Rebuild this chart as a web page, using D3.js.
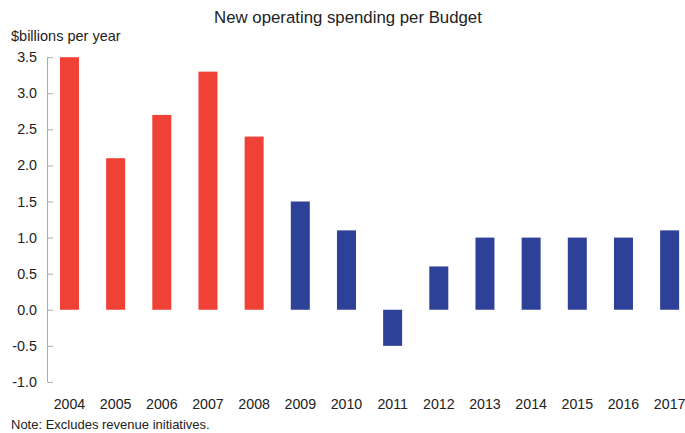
<!DOCTYPE html>
<html>
<head>
<meta charset="utf-8">
<script src="https://cdn.jsdelivr.net/npm/d3@7"></script>
<style>
  html, body { margin: 0; padding: 0; background: #fff; }
  svg { display: block; font-family: "Liberation Sans", Arial, sans-serif; }
</style>
</head>
<body>
<svg id="chart" width="685" height="433"></svg>
<script>
// Budget years and new operating spending ($ billions per year)
const years = ["2004","2005","2006","2007","2008","2009","2010","2011","2012","2013","2014","2015","2016","2017"];
const spending = [3.5, 2.1, 2.7, 3.3, 2.4, 1.5, 1.1, -0.5, 0.6, 1.0, 1.0, 1.0, 1.0, 1.1];
// Which government's budget each year belongs to (colour group)
const groups = ["a","a","a","a","a","b","b","b","b","b","b","b","b","b"];
const yTicks = [-1.0, -0.5, 0.0, 0.5, 1.0, 1.5, 2.0, 2.5, 3.0, 3.5];

const colors = { a: "#ef4136", b: "#2e4198" };

const svg = d3.select("#chart");
const axisX = 47;

const x = d3.scaleBand().domain(years).range([46.5, 692.6]).paddingInner(0.585).paddingOuter(0.29);
const y = d3.scaleLinear().domain([-1.0, 3.5]).range([381.9, 57.2]);

// Title
svg.append("text")
  .attr("x", 348).attr("y", 23)
  .attr("text-anchor", "middle")
  .attr("font-size", 16.8).attr("fill", "#222")
  .text("New operating spending per Budget");

// Unit label
svg.append("text")
  .attr("x", 11).attr("y", 41)
  .attr("font-size", 14.5).attr("fill", "#222")
  .text("$billions per year");

// Bars
const data = years.map((yr, i) => ({ yr, v: spending[i], g: groups[i] }));
svg.append("g").selectAll("rect").data(data).join("rect")
  .attr("x", d => x(d.yr) + (x.bandwidth() - 19) / 2)
  .attr("width", 19)
  .attr("y", d => y(Math.max(0, d.v)))
  .attr("height", d => Math.abs(y(d.v) - y(0)))
  .attr("fill", d => colors[d.g]);

// Y axis: vertical line with ticks pointing inward
const yAxis = d3.axisRight(y).tickValues(yTicks).tickSize(6).tickFormat("");
const ya = svg.append("g").attr("transform", `translate(${axisX},0)`).call(yAxis);
ya.select(".domain").attr("stroke", "#aaa").attr("d", `M0.5,${y(3.5)}V${y(-1.0)}`);
ya.selectAll(".tick line").attr("stroke", "#aaa").attr("x1", 0.5);

// Y tick labels
svg.append("g").selectAll("text").data(yTicks).join("text")
  .attr("x", 37).attr("y", d => y(d) + 5)
  .attr("text-anchor", "end")
  .attr("font-size", 14.3).attr("fill", "#222")
  .text(d => d3.format(".1f")(d).replace("−", "-"));

// X axis labels
const xAxis = d3.axisBottom(x).tickSize(0).tickPadding(0);
const xa = svg.append("g").attr("transform", "translate(0,399)").call(xAxis);
xa.select(".domain").remove();
xa.selectAll("text")
  .attr("font-size", 14.2).attr("fill", "#222")
  .attr("font-family", "Liberation Sans, Arial, sans-serif")
  .attr("dy", "0.71em");

// Note
svg.append("text")
  .attr("x", 11).attr("y", 429)
  .attr("font-size", 13).attr("fill", "#222")
  .text("Note: Excludes revenue initiatives.");
</script>
</body>
</html>
